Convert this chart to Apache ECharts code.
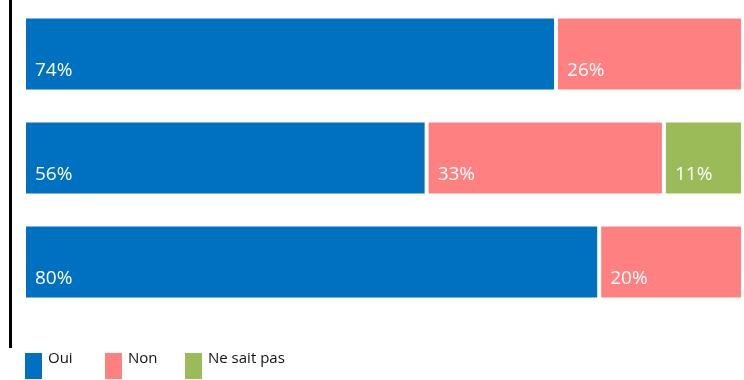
<!DOCTYPE html>
<html>
<head>
<meta charset="utf-8">
<script src="https://cdn.jsdelivr.net/npm/echarts@6/dist/echarts.min.js"></script>
<style>html,body{margin:0;padding:0;background:#fff;}#c{width:744px;height:380px;}</style>
</head>
<body>
<div id="c"></div>
<script>
var categories = ['Question 1', 'Question 2', 'Question 3'];
var oui = [74, 56, 80];
var non = [26, 33, 20];
var nsp = [null, 11, null];
var seriesNames = ['Oui', 'Non', 'Ne sait pas'];
var colors = ['#0070C0', '#FF8080', '#9BBB59'];

var chart = echarts.init(document.getElementById('c'));
function mk(name, data, color) {
  return {
    name: name, type: 'bar', stack: 'total', data: data, barWidth: 75,
    itemStyle: { color: color, borderColor: '#fff', borderWidth: 2 },
    label: {
      show: true, position: 'insideLeft', distance: 11, offset: [0, 17],
      color: '#fff', fontFamily: 'Open Sans', fontSize: 19,
      formatter: function (p) { return p.value == null ? '' : p.value + '%'; }
    }
  };
}
chart.setOption({
  animation: false,
  grid: { left: 24, width: 719, top: 2, height: 312, containLabel: false },
  xAxis: { type: 'value', min: 0, max: 100, show: false },
  yAxis: { type: 'category', data: categories, inverse: true, show: false },
  legend: {
    left: 23, top: 351, itemWidth: 19, itemHeight: 28, itemGap: 10,
    icon: 'rect', padding: 0,
    formatter: function (n) { return '{t|' + n + '}\n{s|}'; },
    textStyle: {
      fontFamily: 'Open Sans', fontSize: 15, color: '#111',
      rich: {
        t: { fontFamily: 'Open Sans', fontSize: 15, color: '#111', lineHeight: 14, width: 45 },
        s: { lineHeight: 14, width: 45 }
      }
    },
    data: seriesNames
  },
  graphic: [{
    type: 'line', shape: { x1: 10.5, y1: 0, x2: 10.5, y2: 348 },
    style: { stroke: '#000', lineWidth: 3 }
  }],
  series: [mk(seriesNames[0], oui, colors[0]), mk(seriesNames[1], non, colors[1]), mk(seriesNames[2], nsp, colors[2])]
});
</script>
</body>
</html>
